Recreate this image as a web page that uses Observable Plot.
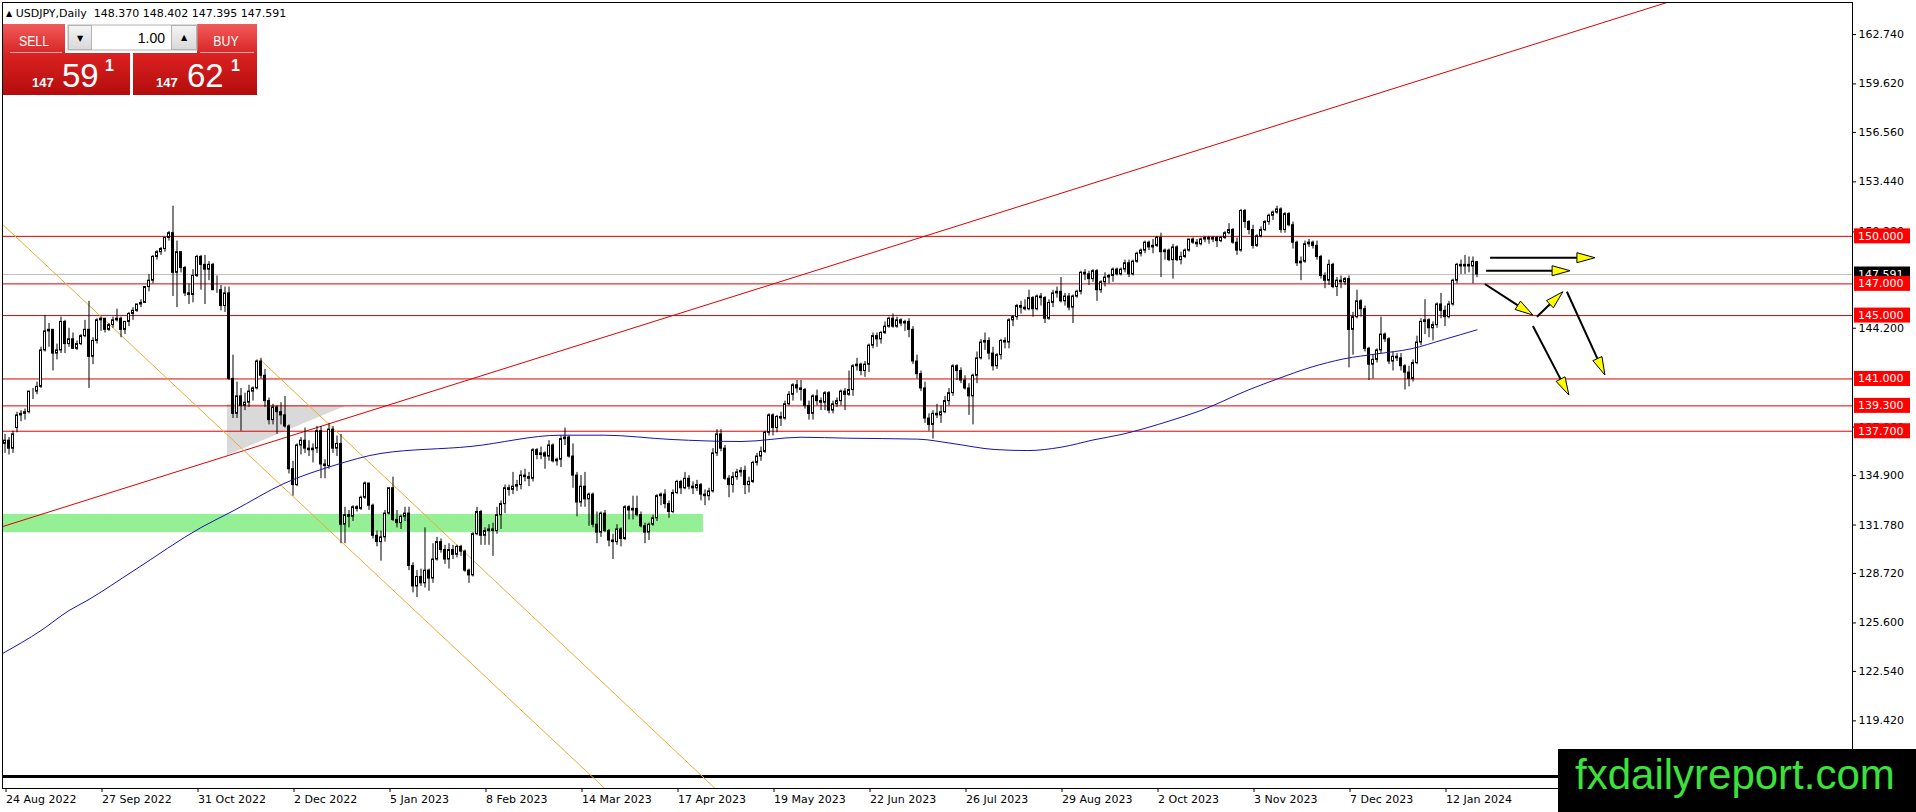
<!DOCTYPE html>
<html>
<head>
<meta charset="utf-8">
<script src="https://cdn.jsdelivr.net/npm/d3@7"></script>
<script src="https://cdn.jsdelivr.net/npm/@observablehq/plot@0.6"></script>
<style>
  html, body { margin: 0; padding: 0; background: #fff; overflow: hidden; }
  #wrap { position: relative; width: 1916px; height: 812px; }
  #chart { position: absolute; left: 0; top: 0; }
  #header { position: absolute; left: 6px; top: 7px; font: 11px/13px "DejaVu Sans", sans-serif; color: #000; white-space: pre; }
  #header .tri { font-size: 8px; vertical-align: 1px; }
  #panel { position: absolute; left: 0; top: 0; }
  #mark { position: absolute; left: 1558px; top: 749px; width: 358px; height: 63px; background: #000; overflow: hidden; }
  #mark span { position: absolute; left: 17px; top: 2px; font: 42px/47px "Liberation Sans", Arial, sans-serif; color: #3ce23c; white-space: nowrap; }
</style>
</head>
<body>
<div id="wrap">
  <div id="chart"></div>
  <div id="header"><span class="tri">▲</span> USDJPY,Daily  148.370 148.402 147.395 147.591</div>
  <svg id="panel" width="262" height="100" xmlns="http://www.w3.org/2000/svg">
    <defs>
      <linearGradient id="gTop" x1="0" y1="0" x2="0" y2="1">
        <stop offset="0" stop-color="#f25a5a"/><stop offset="1" stop-color="#d82626"/>
      </linearGradient>
      <linearGradient id="gPx" x1="0" y1="0" x2="0" y2="1">
        <stop offset="0" stop-color="#dc2222"/><stop offset="1" stop-color="#b30c0c"/>
      </linearGradient>
      <linearGradient id="gBtn" x1="0" y1="0" x2="0" y2="1">
        <stop offset="0" stop-color="#f4f4f4"/><stop offset="1" stop-color="#d8d8d8"/>
      </linearGradient>
    </defs>
    <rect x="3" y="24" width="62" height="29" fill="url(#gTop)"/>
    <rect x="197" y="24" width="60" height="29" fill="url(#gTop)"/>
    <rect x="68" y="25" width="129" height="25" fill="#fff" stroke="#b4b4b4"/>
    <rect x="68.5" y="25.5" width="23" height="24" fill="url(#gBtn)" stroke="#b4b4b4"/>
    <rect x="171.5" y="25.5" width="25" height="24" fill="url(#gBtn)" stroke="#b4b4b4"/>
    <text x="80" y="41" font-family="DejaVu Sans" font-size="8" text-anchor="middle">▼</text>
    <text x="184" y="40" font-family="DejaVu Sans" font-size="8" text-anchor="middle">▲</text>
    <text x="165" y="43" font-family="Liberation Sans" font-size="14" text-anchor="end" fill="#000">1.00</text>
    <text x="34" y="46" font-family="Liberation Sans" font-size="15" text-anchor="middle" fill="#fff" transform="translate(34 0) scale(0.82 1) translate(-34 0)">SELL</text>
    <text x="226" y="46" font-family="Liberation Sans" font-size="15" text-anchor="middle" fill="#fff" transform="translate(226 0) scale(0.82 1) translate(-226 0)">BUY</text>
    <line x1="10" y1="52.5" x2="62" y2="52.5" stroke="#f5a3a3"/>
    <line x1="200" y1="52.5" x2="254" y2="52.5" stroke="#f5a3a3"/>
    <rect x="3" y="53" width="127" height="42" fill="url(#gPx)"/>
    <rect x="133" y="53" width="124" height="42" fill="url(#gPx)"/>
    <text x="32" y="87" font-family="Liberation Sans" font-size="13" font-weight="bold" fill="#fff">147</text>
    <text x="62" y="87" font-family="Liberation Sans" font-size="33" fill="#fff">59</text>
    <text x="105" y="71" font-family="Liberation Sans" font-size="16" font-weight="bold" fill="#fff">1</text>
    <text x="156" y="87" font-family="Liberation Sans" font-size="13" font-weight="bold" fill="#fff">147</text>
    <text x="187" y="87" font-family="Liberation Sans" font-size="33" fill="#fff">62</text>
    <text x="231" y="71" font-family="Liberation Sans" font-size="16" font-weight="bold" fill="#fff">1</text>
  </svg>
  <div id="mark"><span>fxdailyreport.com</span></div>
</div>
<script>
// ---------------- DATA ----------------
const firstDay = "2022-08-24";
const closedDays = ["2023-12-25", "2024-01-01"];

const opens = [
136.9,137.1,136.6,137.9,138.7,138.8,138.9,140.2,140.2,140.5,
142.8,144.0,144.1,142.6,142.8,144.6,143.2,143.5,142.9,143.2,
143.7,144.1,142.4,143.4,144.7,144.8,144.1,144.4,144.7,144.8,
144.1,144.6,145.1,145.3,145.7,145.8,146.8,147.2,148.7,149.0,
149.2,149.9,150.2,147.7,149.0,148.0,146.4,146.3,147.5,148.7,
148.2,147.9,148.2,146.6,146.6,145.6,146.4,141.0,138.8,139.9,
139.3,139.5,140.2,140.4,142.1,141.2,139.6,138.4,139.2,138.9,
138.7,138.0,135.3,134.3,136.8,137.1,136.6,136.5,136.6,137.7,
135.6,135.5,137.8,136.6,136.9,131.8,132.4,132.3,132.9,132.8,
133.5,134.4,133.0,131.1,130.7,131.0,132.5,134.1,132.1,131.9,
132.3,132.5,129.2,127.9,128.5,128.1,128.9,128.4,129.6,130.7,
130.2,129.6,130.2,129.9,130.4,130.1,128.9,128.6,131.2,132.6,
131.1,131.4,131.5,131.4,132.4,133.1,134.1,134.0,134.2,134.3,
134.9,134.8,134.7,136.5,136.2,136.3,136.1,136.8,135.8,135.9,
137.2,137.3,136.1,134.9,133.2,134.2,133.4,133.7,131.8,131.3,
132.5,131.4,130.8,130.7,131.5,130.9,132.9,132.7,132.8,132.4,
131.7,131.3,131.8,132.2,133.6,133.7,133.1,132.6,133.8,134.5,
134.1,134.7,134.2,134.1,134.3,133.7,133.6,133.9,136.3,137.5,
136.6,134.7,134.3,134.8,135.1,135.2,134.3,134.5,135.7,136.1,
136.4,137.6,138.7,137.9,138.6,138.5,139.4,140.0,140.6,140.4,
140.3,139.3,138.8,139.9,139.6,139.5,140.1,139.0,139.4,139.6,
140.2,140.0,140.3,141.8,141.9,141.5,141.9,143.1,143.7,143.5,
143.9,144.3,144.8,144.3,144.7,144.5,144.6,144.1,142.1,141.3,
140.4,138.5,138.1,138.8,138.7,138.9,139.6,140.1,141.8,141.5,
140.9,140.4,139.9,141.2,142.3,143.3,143.4,142.6,141.8,142.5,
143.4,143.3,144.7,144.9,145.6,145.5,145.4,146.1,145.4,146.2,
146.1,144.8,145.8,146.4,146.5,145.9,146.2,145.5,146.2,146.5,
147.7,147.6,147.3,147.8,146.6,147.1,147.4,147.5,147.9,147.6,
147.9,148.3,147.6,148.4,148.9,149.1,149.6,149.3,149.4,149.9,
149.0,149.1,148.5,149.3,148.5,148.7,149.1,149.8,149.6,149.5,
149.8,149.9,149.8,149.9,149.7,149.9,150.2,150.4,149.6,149.1,
151.6,150.9,150.4,149.4,150.0,150.4,150.9,151.3,151.5,151.7,
150.4,151.4,150.7,149.6,148.3,148.4,149.5,149.6,149.4,148.7,
147.5,147.2,148.2,146.8,147.2,147.1,147.3,144.1,144.9,145.9,
145.4,142.9,141.9,142.2,142.8,143.8,143.5,142.1,142.4,142.3,
141.8,141.4,141.0,142.0,143.3,144.6,144.7,144.2,144.4,145.7,
145.3,144.9,145.7,147.2,148.2,148.1,148.2,148.1,148.37];

const highs = [
137.5,137.3,137.7,138.9,139.0,139.1,140.2,140.4,140.8,143.0,
145.0,144.5,144.1,143.2,144.9,144.7,144.2,143.9,143.4,143.8,
144.7,145.9,143.6,144.8,144.9,144.8,144.5,144.9,145.4,144.9,
144.6,145.2,145.5,145.7,146.0,146.8,147.6,148.8,149.1,149.3,
149.9,150.3,151.9,149.7,149.0,148.1,147.0,147.9,148.8,148.8,
148.8,148.4,148.3,147.5,146.9,146.8,146.8,142.5,140.8,140.4,
140.1,140.6,140.5,142.2,142.3,141.6,139.8,139.4,139.3,139.5,
139.9,138.1,135.8,136.9,137.3,137.9,137.1,136.9,138.0,138.0,
135.9,138.2,138.0,137.4,137.5,132.9,132.7,133.0,133.0,133.6,
134.5,134.4,133.1,131.4,131.4,132.7,134.1,134.8,132.7,132.4,
132.9,132.9,129.4,128.9,129.0,131.6,129.0,130.6,131.0,130.9,
130.5,130.6,130.5,130.5,130.5,130.2,129.0,131.3,132.9,132.7,
131.6,131.8,131.9,132.9,133.3,134.3,134.3,135.1,134.6,135.2,
135.3,135.1,136.6,136.6,136.7,136.4,137.1,136.9,136.0,137.4,
137.9,137.4,136.9,135.1,134.9,135.1,133.8,133.8,132.6,132.6,
132.7,131.5,131.2,131.8,131.6,133.0,133.0,133.6,133.6,132.6,
131.9,131.9,132.4,133.7,133.8,134.0,133.3,134.0,134.6,134.6,
135.1,134.9,134.5,134.6,134.4,134.0,134.1,136.6,137.8,137.8,
136.8,134.9,135.1,135.3,135.4,135.5,134.8,135.8,136.3,136.7,
137.7,138.8,138.8,138.7,138.9,139.6,140.2,140.7,140.9,140.9,
140.4,139.6,140.0,140.3,139.8,140.2,140.2,139.6,139.8,140.3,
140.4,141.5,141.9,142.3,142.0,142.1,143.2,143.9,143.9,144.0,
144.6,144.9,145.1,144.9,144.8,144.7,144.8,144.3,142.5,141.5,
140.8,138.8,139.0,139.4,139.3,139.9,140.4,141.9,141.9,141.7,
141.2,140.7,141.3,142.7,143.5,143.9,143.6,143.0,142.6,143.5,
143.6,144.8,145.0,145.7,145.9,146.0,146.6,146.2,146.3,146.4,
146.2,146.0,146.6,146.8,147.4,146.4,146.4,146.3,146.6,147.8,
147.9,147.8,147.9,147.9,147.2,147.7,147.6,148.0,148.0,148.0,
148.5,148.5,148.5,149.0,149.2,149.7,149.7,149.8,150.0,150.2,
149.2,149.2,149.5,149.4,149.0,149.2,149.8,149.9,149.8,149.9,
150.0,150.0,150.0,150.0,150.0,150.3,150.8,150.5,149.9,151.7,
151.7,151.0,150.7,150.1,150.6,151.0,151.4,151.6,151.9,151.8,
151.5,151.5,150.9,149.7,148.7,149.7,149.8,149.7,149.7,148.8,
147.7,148.5,148.3,147.4,147.5,147.4,147.5,145.2,146.6,146.0,
145.6,143.0,142.5,142.9,144.9,143.9,143.6,142.7,142.6,142.6,
141.9,141.8,142.2,143.7,144.8,146.0,144.8,144.6,145.8,146.4,
145.6,145.9,147.3,148.3,148.5,148.8,148.7,148.7,148.402];

const lows = [
136.3,136.2,136.3,137.6,138.3,138.4,138.8,139.7,140.0,140.4,
142.7,143.0,141.5,142.2,142.6,142.6,143.0,142.9,142.8,143.1,
143.6,140.4,141.9,143.2,144.0,143.9,144.0,144.2,144.6,143.6,
143.8,144.3,144.7,145.2,145.5,145.8,146.5,147.0,148.5,148.8,
149.0,149.7,146.2,145.5,147.7,146.2,145.7,145.8,147.4,146.6,
145.7,147.2,146.6,146.4,145.3,145.2,140.9,138.5,138.5,137.7,
139.0,139.2,139.6,140.3,141.0,139.2,138.1,138.1,137.5,138.1,
137.9,135.0,133.6,134.2,136.2,136.3,136.1,135.7,136.3,134.7,
134.7,135.3,136.3,136.1,130.6,130.6,131.6,132.0,132.6,132.7,
133.4,132.7,130.9,130.4,129.5,130.7,132.4,132.0,131.6,131.5,
132.0,128.9,127.5,127.2,127.9,127.8,127.6,128.1,129.5,130.0,
129.3,129.0,129.6,129.7,129.8,128.8,128.1,128.5,131.1,130.5,
130.5,130.5,129.8,131.2,131.5,132.5,133.6,133.7,133.9,134.0,
134.5,134.2,134.5,135.9,135.9,135.3,135.8,135.7,135.5,135.4,
136.8,136.0,134.1,132.3,132.9,132.9,131.7,131.6,130.6,131.0,
131.3,130.4,129.6,130.5,130.4,130.8,132.1,132.1,132.3,131.6,
130.6,130.8,131.7,132.0,133.0,132.8,132.2,132.5,133.7,133.7,
134.0,134.0,133.7,133.9,133.3,133.0,133.3,133.8,136.1,136.4,
134.6,133.5,133.8,134.6,134.8,133.7,133.8,134.4,135.5,135.8,
136.3,137.4,137.4,137.6,138.0,138.4,139.3,139.6,140.1,139.6,
139.1,138.4,138.4,139.3,139.0,139.0,138.8,138.8,139.2,139.3,
139.0,139.9,139.9,141.5,141.2,141.1,141.4,142.9,143.0,143.2,
143.8,144.2,144.2,144.2,144.3,144.0,143.6,141.9,141.0,140.2,
138.2,137.7,137.2,138.5,138.2,138.8,139.3,139.9,140.9,140.7,
140.3,138.7,138.1,140.7,142.2,142.8,142.2,141.5,141.6,142.2,
142.9,142.9,144.3,144.7,145.1,145.3,145.3,144.9,145.3,145.6,
144.5,144.7,145.5,146.1,145.8,145.6,145.3,144.5,146.1,146.3,
147.2,146.9,147.1,145.9,146.4,146.8,147.0,147.1,147.5,147.5,
147.7,147.4,147.5,148.3,148.7,148.9,149.1,148.9,149.3,147.4,
148.5,148.4,147.3,148.4,148.2,148.6,149.0,149.5,149.3,149.4,
149.6,149.5,149.6,149.3,149.6,149.8,150.1,149.5,148.8,149.0,
150.5,150.1,149.2,149.3,149.9,150.3,150.7,151.0,151.4,150.2,
150.2,150.6,149.2,148.1,147.2,148.3,149.3,149.2,148.5,147.3,
146.7,146.9,146.7,146.2,146.7,146.9,141.7,142.5,144.8,144.9,
142.7,140.9,141.0,142.0,142.6,143.3,141.9,141.5,142.1,141.5,
140.3,140.5,140.8,141.9,143.1,143.8,143.6,143.4,144.2,144.8,
144.3,144.8,145.6,147.0,147.6,147.6,147.7,147.0,147.395];

const closes = [
137.1,136.6,137.5,138.7,138.8,138.9,140.2,140.2,140.5,142.8,
144.0,144.1,142.6,142.8,144.6,143.2,143.5,142.9,143.2,143.7,
144.1,142.4,143.4,144.7,144.8,144.1,144.4,144.7,144.8,144.1,
144.6,145.1,145.3,145.7,145.8,146.8,147.2,148.7,149.0,149.2,
149.9,150.2,147.7,149.0,148.0,146.4,146.3,147.5,148.7,148.2,
147.9,148.2,146.6,146.6,145.6,146.4,141.0,138.8,139.9,139.3,
139.5,140.2,140.4,142.1,141.2,139.6,138.4,139.2,138.9,138.7,
138.0,135.3,134.3,136.8,137.1,136.6,136.5,136.6,137.7,135.6,
135.5,137.8,136.6,136.9,131.8,132.4,132.3,132.9,132.8,133.5,
134.4,133.0,131.1,130.7,131.0,132.5,134.1,132.1,131.9,132.3,
132.5,129.2,127.9,128.5,128.1,128.9,128.4,129.6,130.7,130.2,
129.6,130.2,129.9,130.4,130.1,128.9,128.6,131.2,132.6,131.1,
131.4,131.5,131.4,132.4,133.1,134.1,134.0,134.2,134.3,134.9,
134.8,134.7,136.5,136.2,136.3,136.1,136.8,135.8,135.9,137.2,
137.3,136.1,134.9,133.2,134.2,133.4,133.7,131.8,131.3,132.5,
131.4,130.8,130.7,131.5,130.9,132.9,132.7,132.8,132.4,131.7,
131.3,131.8,132.2,133.6,133.7,133.1,132.6,133.8,134.5,134.1,
134.7,134.2,134.1,134.3,133.7,133.6,133.9,136.3,137.5,136.6,
134.7,134.3,134.8,135.1,135.2,134.3,134.5,135.7,136.1,136.4,
137.6,138.7,137.9,138.6,138.5,139.4,140.0,140.6,140.4,140.3,
139.3,138.8,139.9,139.6,139.5,140.1,139.0,139.4,139.6,140.2,
140.0,140.3,141.8,141.9,141.5,141.9,143.1,143.7,143.5,143.9,
144.3,144.8,144.3,144.7,144.5,144.6,144.1,142.1,141.3,140.4,
138.5,138.1,138.8,138.7,138.9,139.6,140.1,141.8,141.5,140.9,
140.4,139.9,141.2,142.3,143.3,143.4,142.6,141.8,142.5,143.4,
143.3,144.7,144.9,145.6,145.5,145.4,146.1,145.4,146.2,146.1,
144.8,145.8,146.4,146.5,145.9,146.2,145.5,146.2,146.5,147.7,
147.6,147.3,147.8,146.6,147.1,147.4,147.5,147.9,147.6,147.9,
148.3,147.6,148.4,148.9,149.1,149.6,149.3,149.4,149.9,149.0,
149.1,148.5,149.3,148.5,148.7,149.1,149.8,149.6,149.5,149.8,
149.9,149.8,149.9,149.7,149.9,150.2,150.4,149.6,149.1,151.6,
150.9,150.4,149.4,150.0,150.4,150.9,151.3,151.5,151.7,150.4,
151.4,150.7,149.6,148.3,148.4,149.5,149.6,149.4,148.7,147.5,
147.2,148.2,146.8,147.2,147.1,147.3,144.1,144.9,145.9,145.4,
142.9,141.9,142.2,142.8,143.8,143.5,142.1,142.4,142.3,141.8,
141.4,141.0,142.0,143.3,144.6,144.7,144.2,144.4,145.7,145.3,
144.9,145.7,147.2,148.2,148.1,148.2,148.1,148.4,147.591];

// moving average (blue), read at key bars
const maBars   = [-0.6, 9, 16, 20.5, 32.25, 49, 57.25, 69.75, 82.25, 94, 116.5, 139, 149.75, 166.5, 184, 199, 210.7, 228.2, 237.25, 247.25, 255.7, 264, 272.25, 279, 291.5, 299, 311, 318.2, 326.5, 334.75, 343.2, 351.5, 359.75, 368];
const maValues = [123.67, 125.12, 126.38, 127.01, 128.91, 131.62, 132.70, 134.40, 135.54, 136.30, 136.74, 137.45, 137.45, 137.18, 137.05, 137.32, 137.26, 137.20, 136.91, 136.55, 136.48, 136.69, 137.16, 137.49, 138.38, 139.01, 140.32, 141.01, 141.74, 142.27, 142.59, 142.90, 143.49, 144.10];

const xTickLabels = ["24 Aug 2022","27 Sep 2022","31 Oct 2022","2 Dec 2022","5 Jan 2023","8 Feb 2023","14 Mar 2023","17 Apr 2023","19 May 2023","22 Jun 2023","26 Jul 2023","29 Aug 2023","2 Oct 2023","3 Nov 2023","7 Dec 2023","12 Jan 2024"];
const yTickValues = [162.74,159.62,156.56,153.44,150.28,144.2,137.96,134.9,131.78,128.72,125.6,122.54,119.42];
const yDomain = [115.15, 164.76];
const barDomain = [-0.625, 461.875];

const levelPrices = [150, 147, 145, 141, 139.3, 137.7];
const lastPrice = 147.591;
const baseLinePrice = 115.9;

const trendBars = [-0.625, 420];       const trendPrices = [131.68, 165.12];
const channelABars = [-0.625, 151];    const channelAPrices = [150.76, 114.9];
const channelBBars = [63.75, 179];     const channelBPrices = [142.23, 114.8];
const zoneBars = [-0.625, 174.6];      const zonePrices = [131.3, 132.45];
const triangleBars = [55.6, 85.1];     const triangleLow = [136.17, 139.26]; const triangleHigh = [139.41, 139.26];

const arrowFromBars = [371.4, 370.4, 370.1, 383.1, 390.6, 382.1];
const arrowFromPrices = [148.62, 147.80, 146.96, 144.90, 146.47, 144.31];
const arrowToBars = [397.6, 391.4, 382.1, 389.6, 400.1, 391.1];
const arrowToPrices = [148.62, 147.80, 145.00, 146.47, 141.22, 139.95];

// ---------------- BUILD ----------------
const dates = [];
{
  let t = Date.parse(firstDay + "T00:00:00Z");
  while (dates.length < closes.length) {
    const d = new Date(t);
    const wd = d.getUTCDay();
    const iso = d.toISOString().slice(0, 10);
    if (wd !== 0 && wd !== 6 && !closedDays.includes(iso)) dates.push(iso);
    t += 86400000;
  }
}
const candles = closes.map((c, i) => ({i, date: dates[i], o: opens[i], h: highs[i], l: lows[i], c}));

const parseLabel = d3.utcParse("%d %b %Y");
const fmtIso = d3.utcFormat("%Y-%m-%d");
const tickIndex = xTickLabels.map(s => dates.indexOf(fmtIso(parseLabel(s))));
const labelAt = new Map(tickIndex.map((ix, k) => [ix, xTickLabels[k]]));

const ma = maBars.map((b, k) => ({b, v: maValues[k]}));
const trend = trendBars.map((b, k) => ({b, p: trendPrices[k]}));
const chanA = channelABars.map((b, k) => ({b, p: channelAPrices[k]}));
const chanB = channelBBars.map((b, k) => ({b, p: channelBPrices[k]}));
const tri = triangleBars.map((b, k) => ({b, lo: triangleLow[k], hi: triangleHigh[k]}));
const zone = [{x1: zoneBars[0], x2: zoneBars[1], y1: zonePrices[0], y2: zonePrices[1]}];

const RED = "#dd0000";
const ORANGE = "#eeaa33";

const plot = Plot.plot({
  width: 1916,
  height: 812,
  marginLeft: 2,
  marginRight: 64,
  marginTop: 2,
  marginBottom: 24,
  style: {fontFamily: "DejaVu Sans", fontSize: "11px", background: "#fff", color: "#000", overflow: "visible"},
  x: {type: "linear", domain: barDomain, axis: null},
  y: {type: "linear", domain: yDomain, axis: null},
  marks: [
    Plot.rect(zone, {x1: "x1", x2: "x2", y1: "y1", y2: "y2", fill: "#95f095"}),
    Plot.areaY(tri, {x: "b", y1: "lo", y2: "hi", fill: "#d9d9d9"}),
    Plot.ruleY(levelPrices, {stroke: RED}),
    Plot.ruleY([lastPrice], {stroke: "#c0c0c0"}),
    Plot.ruleY([baseLinePrice], {stroke: "#000", strokeWidth: 3}),
    Plot.line(trend, {x: "b", y: "p", stroke: RED, strokeWidth: 1, clip: true}),
    Plot.line(chanA, {x: "b", y: "p", stroke: ORANGE, strokeWidth: 1, clip: true}),
    Plot.line(chanB, {x: "b", y: "p", stroke: ORANGE, strokeWidth: 1, clip: true}),
    Plot.ruleX(candles, {x: "i", y1: "l", y2: "h", stroke: "#000"}),
    Plot.rect(candles, {x1: d => d.i - 0.25, x2: d => d.i + 0.25, y1: "o", y2: "c",
      fill: d => d.c >= d.o ? "#fff" : "#000", stroke: "#000", strokeWidth: 1}),
    Plot.line(ma, {x: "b", y: "v", stroke: "#1414b4", strokeWidth: 1, curve: "monotone-x", clip: true}),
    Plot.frame({stroke: "#000"}),
    Plot.axisX({ticks: tickIndex, tickFormat: i => labelAt.get(i), tickSize: 4, tickPadding: 3,
      textAnchor: "start", dx: 1, label: null, fontSize: 11}),
    Plot.axisY({anchor: "right", ticks: yTickValues, tickFormat: d3.format(".3f"), tickSize: 3,
      tickPadding: 3, label: null, fontSize: 11})
  ]
});
document.getElementById("chart").appendChild(plot);

// overlays in data coordinates through the plot's scales
const sx = plot.scale("x"), sy = plot.scale("y");
const svg = d3.select(plot);
const right = 1916 - 64;

// arrows
const ag = svg.append("g");
arrowFromBars.forEach((b0, k) => {
  const x0 = sx.apply(b0), y0 = sy.apply(arrowFromPrices[k]);
  const x1 = sx.apply(arrowToBars[k]), y1 = sy.apply(arrowToPrices[k]);
  const dx = x1 - x0, dy = y1 - y0, len = Math.hypot(dx, dy);
  const ux = dx / len, uy = dy / len, nx = -uy, ny = ux;
  const L = 18, W = 5;
  const bx = x1 - ux * L, by = y1 - uy * L;
  ag.append("line").attr("x1", x0).attr("y1", y0).attr("x2", bx).attr("y2", by)
    .attr("stroke", "#000").attr("stroke-width", 2);
  ag.append("polygon")
    .attr("points", [[x1, y1], [bx + nx * W, by + ny * W], [bx - nx * W, by - ny * W]].map(p => p.join(",")).join(" "))
    .attr("fill", "#ffff00").attr("stroke", "#000").attr("stroke-width", 1);
});

// price tags on the right axis
const tg = svg.append("g").attr("font-family", "DejaVu Sans").attr("font-size", 11).attr("text-anchor", "start");
const tags = [{p: lastPrice, bg: "#000"}].concat(levelPrices.map(p => ({p, bg: "#ff0000"})));
tags.forEach(t => {
  const y = sy.apply(t.p);
  tg.append("rect").attr("x", right + 2).attr("y", y - 7.5).attr("width", 56).attr("height", 15).attr("fill", t.bg);
  tg.append("text").attr("x", right + 6).attr("y", y).attr("dy", "0.36em").attr("text-anchor", "start")
    .attr("fill", "#fff").text(d3.format(".3f")(t.p));
});
</script>
</body>
</html>
